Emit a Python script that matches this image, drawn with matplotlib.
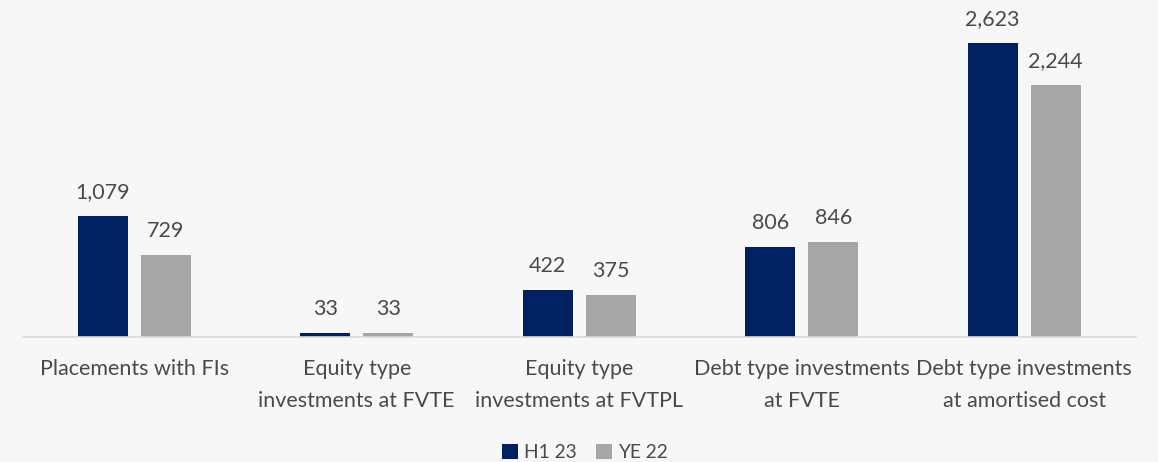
import matplotlib.pyplot as plt
import numpy as np

categories = ['Placements with FIs', 'Equity type\ninvestments at FVTE', 'Equity type\ninvestments at FVTPL',
              'Debt type investments\nat FVTE', 'Debt type investments\nat amortised cost']
h1_23 = [1079, 33, 422, 806, 2623]
ye_22 = [729, 33, 375, 846, 2244]

navy = '#002060'
grey = '#A6A6A6'
txt = '#4a4a4a'

plt.rcParams['font.family'] = ['Lato', 'DejaVu Sans']

fig = plt.figure(figsize=(11.58, 4.62), dpi=100)
fig.patch.set_facecolor('#f7f7f7')
ax = fig.add_axes([23/1158, 125/462, 1112.5/1158, 332/462])
ax.set_facecolor('none')

x = np.arange(len(categories))
w = 0.225
off = 0.1416
b1 = ax.bar(x - off, h1_23, w, color=navy, label='H1 23')
b2 = ax.bar(x + off, ye_22, w, color=grey, label='YE 22')
for bars, vals in ((b1, h1_23), (b2, ye_22)):
    for b, v in zip(bars, vals):
        ax.annotate('{:,}'.format(v), (b.get_x() + b.get_width()/2, v), xytext=(0, 10),
                    textcoords='offset points', ha='center', va='bottom', fontsize=15.5, color=txt)

ax.set_xlim(-0.5, 4.5)
ax.set_ylim(0, 2962)
ax.set_yticks([])
ax.set_xticks(x)
ax.set_xticklabels(categories, fontsize=15.5, color=txt, linespacing=1.72)
ax.tick_params(axis='x', length=0, pad=16)
for s in ['top', 'right', 'left']:
    ax.spines[s].set_visible(False)
ax.spines['bottom'].set_color('#d9d9d9')
ax.spines['bottom'].set_linewidth(1.2)

fig.legend(loc='lower center', bbox_to_anchor=(0.505, -0.035), ncol=2, frameon=False, fontsize=13.8,
           handlelength=0.85, handleheight=0.85, handletextpad=0.3, columnspacing=1.0,
           labelcolor=txt)

fig.savefig('out.png', dpi=100, facecolor=fig.get_facecolor())
